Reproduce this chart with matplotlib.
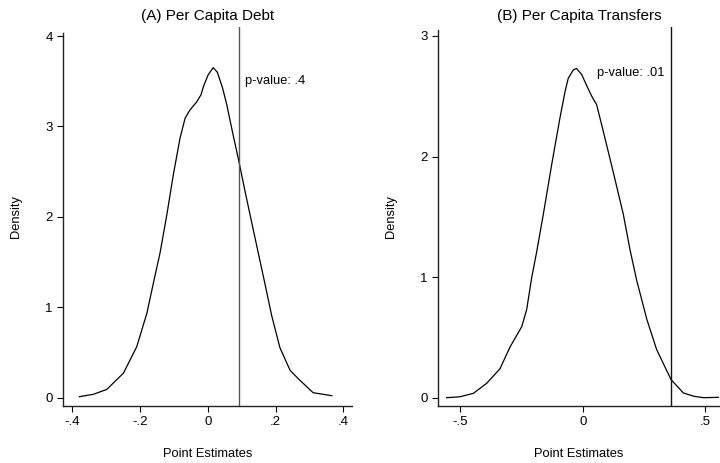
import matplotlib
matplotlib.use('Agg')
import matplotlib.pyplot as plt

plt.rcParams['font.family'] = ['Liberation Sans', 'DejaVu Sans']

# Panel A: per capita debt (density of placebo point estimates)
x_a = [-0.379, -0.338, -0.298, -0.249, -0.210, -0.180, -0.161, -0.141, -0.121,
       -0.102, -0.082, -0.067, -0.053, -0.033, -0.020, -0.013, 0.001, 0.016,
       0.028, 0.044, 0.056, 0.075, 0.092, 0.110, 0.130, 0.149, 0.168, 0.189,
       0.213, 0.243, 0.272, 0.311, 0.366]
y_a = [0.009, 0.035, 0.09, 0.27, 0.56, 0.93, 1.26, 1.60, 2.02,
       2.46, 2.87, 3.09, 3.18, 3.27, 3.35, 3.44, 3.57, 3.65,
       3.60, 3.42, 3.24, 2.90, 2.61, 2.28, 1.93, 1.60, 1.27, 0.90,
       0.55, 0.30, 0.19, 0.053, 0.02]
actual_a = 0.092
pval_a = 'p-value: .4'

# Panel B: per capita transfers
x_b = [-0.556, -0.501, -0.447, -0.392, -0.338, -0.297, -0.249, -0.229, -0.208,
       -0.188, -0.161, -0.127, -0.093, -0.072, -0.059, -0.038, -0.025, -0.004,
       0.016, 0.037, 0.057, 0.084, 0.125, 0.166, 0.193, 0.221, 0.262, 0.302,
       0.361, 0.411, 0.452, 0.493, 0.554]
y_b = [0.0, 0.008, 0.036, 0.12, 0.24, 0.42, 0.59, 0.73, 1.00,
       1.21, 1.52, 1.93, 2.32, 2.54, 2.65, 2.72, 2.73, 2.68,
       2.59, 2.50, 2.43, 2.21, 1.87, 1.52, 1.23, 0.97, 0.65, 0.40,
       0.15, 0.04, 0.013, 0.0, 0.003]
actual_b = 0.361
pval_b = 'p-value: .01'

fig = plt.figure(figsize=(7.2, 4.63), dpi=100)
ax1 = fig.add_axes([63.3 / 720, 1 - 405.7 / 463, (352.3 - 63.3) / 720, (405.7 - 27) / 463])
ax2 = fig.add_axes([438.3 / 720, 1 - 406 / 463, (720 - 438.3) / 720, (406 - 27) / 463])

def panel(ax, x, y, actual, ptxt, ptx, pty, title, xlim, ylim, spine_top,
          xticks, xlabels, yticks, vcolor):
    ax.plot(x, y, color='black', lw=0.9)
    ax.axvline(actual, color=vcolor, lw=1.0)
    ax.text(ptx, pty, ptxt, fontsize=9.3, va='center', ha='left')
    ax.set_xlim(xlim)
    ax.set_ylim(ylim)
    ax.set_xticks(xticks)
    ax.set_xticklabels(xlabels)
    ax.set_yticks(yticks)
    ax.set_yticklabels([str(t) for t in yticks])
    for s in ['top', 'right']:
        ax.spines[s].set_visible(False)
    ax.spines['left'].set_bounds(ylim[0], spine_top)
    for s in ['left', 'bottom']:
        ax.spines[s].set_linewidth(1.0)
        ax.spines[s].set_color('#222222')
    ax.tick_params(direction='out', length=4.5, width=0.8, labelsize=9.5, pad=3)
    ax.set_xlabel('Point Estimates', fontsize=9.3, labelpad=14)
    ax.set_ylabel('Density', fontsize=9.3, labelpad=17)
    ax.set_title(title, fontsize=11, pad=5)

panel(ax1, x_a, y_a, actual_a, pval_a, 0.110, 3.50, '(A) Per Capita Debt',
      (-0.4266, 0.4266), (-0.0907, 4.0996), 4.03,
      [-0.4, -0.2, 0, 0.2, 0.4], ['-.4', '-.2', '0', '.2', '.4'],
      [0, 1, 2, 3, 4], '#555555')
panel(ax2, x_b, y_b, actual_b, pval_b, 0.057, 2.69, '(B) Per Capita Transfers',
      (-0.590, 0.561), (-0.0688, 3.0746), 3.05,
      [-0.5, 0, 0.5], ['-.5', '0', '.5'],
      [0, 1, 2, 3], '#111111')

fig.savefig('out.png', dpi=100)
